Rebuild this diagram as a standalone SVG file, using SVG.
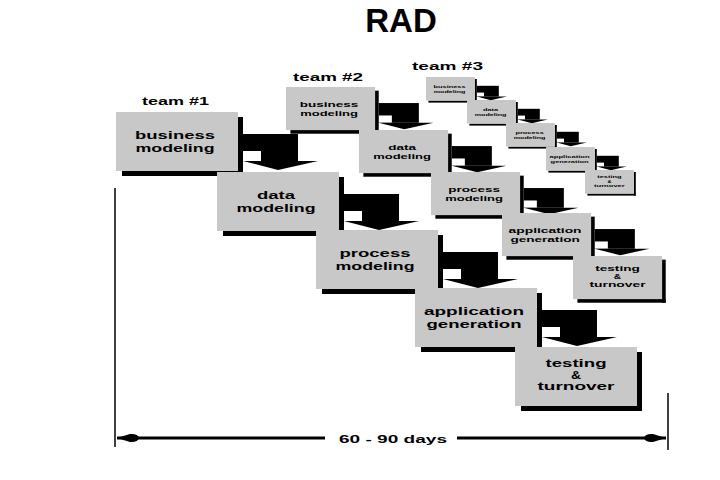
<svg xmlns="http://www.w3.org/2000/svg" xmlns:xlink="http://www.w3.org/1999/xlink" width="720" height="480" viewBox="0 0 720 480">
<style>
.box{fill:#c8c8c8}
.sh{fill:#000}
.t{font-family:"Liberation Sans",Arial,sans-serif;font-weight:bold;font-size:11px;text-anchor:middle;fill:#000}
.t3{font-family:"Liberation Sans",Arial,sans-serif;font-weight:bold;font-size:10px;text-anchor:middle;fill:#000}
.title{font-family:"Liberation Sans",Arial,sans-serif;font-weight:bold;font-size:33px;text-anchor:middle;fill:#000}
.lbl{font-family:"Liberation Sans",Arial,sans-serif;font-weight:bold;font-size:11.5px;text-anchor:middle;fill:#000}
.dim{stroke:#000;stroke-width:3;fill:none}
.ext{stroke:#000;stroke-width:1.5;fill:none}
</style>
<defs>
<g id="card">
<rect class="sh" x="122" y="5" width="5" height="59"/>
<rect class="sh" x="6" y="59" width="121" height="5"/>
<rect class="box" x="0" y="0" width="122" height="59"/>
</g>
<g id="arr">
<rect class="sh" x="127" y="22" width="55" height="27"/>
<rect fill="#fff" x="127" y="39" width="18" height="10"/>
<polygon class="sh" points="127,49 202,49 162,58"/>
</g>
<g id="txt-bm"><text class="t" x="59" y="27" textLength="80" lengthAdjust="spacingAndGlyphs">business</text><text class="t" x="59" y="39.5" textLength="79" lengthAdjust="spacingAndGlyphs">modeling</text></g>
<g id="txt-dm"><text class="t" x="59" y="27" textLength="38" lengthAdjust="spacingAndGlyphs">data</text><text class="t" x="59" y="39.5" textLength="79" lengthAdjust="spacingAndGlyphs">modeling</text></g>
<g id="txt-pm"><text class="t" x="59" y="27" textLength="71" lengthAdjust="spacingAndGlyphs">process</text><text class="t" x="59" y="39.5" textLength="79" lengthAdjust="spacingAndGlyphs">modeling</text></g>
<g id="txt-ag"><text class="t" x="59" y="27" textLength="100" lengthAdjust="spacingAndGlyphs">application</text><text class="t" x="59" y="39.5" textLength="95" lengthAdjust="spacingAndGlyphs">generation</text></g>
<g id="txt-tt"><text class="t3" x="61" y="20" textLength="61" lengthAdjust="spacingAndGlyphs">testing</text><text class="t3" x="61" y="31.5" textLength="10" lengthAdjust="spacingAndGlyphs">&amp;</text><text class="t3" x="61" y="43" textLength="77" lengthAdjust="spacingAndGlyphs">turnover</text></g>
<marker id="head" markerUnits="userSpaceOnUse" markerWidth="26" markerHeight="10" viewBox="0 0 26 10" refX="25" refY="5" orient="auto-start-reverse">
<path d="M25,5 L12,1 Q4,0.5 3,5 Q4,9.5 12,9 Z" fill="#000"/>
</marker>
</defs>
<rect width="720" height="480" fill="#fff"/>
<text class="title" x="401" y="32">RAD</text>
<g id="labels">
<text class="lbl" x="175.5" y="105" textLength="67" lengthAdjust="spacingAndGlyphs">team #1</text>
<text class="lbl" x="328" y="81" textLength="70" lengthAdjust="spacingAndGlyphs">team #2</text>
<text class="lbl" x="447.5" y="70" textLength="71" lengthAdjust="spacingAndGlyphs">team #3</text>
</g>
<g id="connectors">
<use xlink:href="#arr" transform="translate(116,112)"/>
<use xlink:href="#arr" transform="translate(217,172)"/>
<use xlink:href="#arr" transform="translate(316,230)"/>
<use xlink:href="#arr" transform="translate(415,288)"/>
<use xlink:href="#arr" transform="translate(286,87) scale(0.73)"/>
<use xlink:href="#arr" transform="translate(359,130) scale(0.73)"/>
<use xlink:href="#arr" transform="translate(431,172) scale(0.73)"/>
<use xlink:href="#arr" transform="translate(502,213) scale(0.73)"/>
<use xlink:href="#arr" transform="translate(426,77) scale(0.4)"/>
<use xlink:href="#arr" transform="translate(467,100) scale(0.4)"/>
<use xlink:href="#arr" transform="translate(506,123) scale(0.4)"/>
<use xlink:href="#arr" transform="translate(546,147) scale(0.4)"/>
</g>
<g id="t1-business" transform="translate(116,112)"><use xlink:href="#card"/><use xlink:href="#txt-bm"/></g>
<g id="t1-data" transform="translate(217,172)"><use xlink:href="#card"/><use xlink:href="#txt-dm"/></g>
<g id="t1-process" transform="translate(316,230)"><use xlink:href="#card"/><use xlink:href="#txt-pm"/></g>
<g id="t1-application" transform="translate(415,288)"><use xlink:href="#card"/><use xlink:href="#txt-ag"/></g>
<g id="t1-testing" transform="translate(515,347)"><use xlink:href="#card"/><use xlink:href="#txt-tt"/></g>
<g id="t2-business" transform="translate(286,87) scale(0.73)"><use xlink:href="#card"/><use xlink:href="#txt-bm"/></g>
<g id="t2-data" transform="translate(359,130) scale(0.73)"><use xlink:href="#card"/><use xlink:href="#txt-dm"/></g>
<g id="t2-process" transform="translate(431,172) scale(0.73)"><use xlink:href="#card"/><use xlink:href="#txt-pm"/></g>
<g id="t2-application" transform="translate(502,213) scale(0.73)"><use xlink:href="#card"/><use xlink:href="#txt-ag"/></g>
<g id="t2-testing" transform="translate(573,256) scale(0.73)"><use xlink:href="#card"/><use xlink:href="#txt-tt"/></g>
<g id="t3-business" transform="translate(426,77) scale(0.4)"><use xlink:href="#card"/><use xlink:href="#txt-bm"/></g>
<g id="t3-data" transform="translate(467,100) scale(0.4)"><use xlink:href="#card"/><use xlink:href="#txt-dm"/></g>
<g id="t3-process" transform="translate(506,123) scale(0.4)"><use xlink:href="#card"/><use xlink:href="#txt-pm"/></g>
<g id="t3-application" transform="translate(546,147) scale(0.4)"><use xlink:href="#card"/><use xlink:href="#txt-ag"/></g>
<g id="t3-testing" transform="translate(585,170) scale(0.4)"><use xlink:href="#card"/><use xlink:href="#txt-tt"/></g>
<g id="timeline">
<line class="ext" x1="115" y1="188" x2="115" y2="447"/>
<line class="ext" x1="668" y1="393" x2="668" y2="450"/>
<line class="dim" x1="325" y1="438" x2="117" y2="438" marker-end="url(#head)"/>
<line class="dim" x1="457" y1="438" x2="666" y2="438" marker-end="url(#head)"/>
<text class="lbl" x="393" y="443" textLength="108" lengthAdjust="spacingAndGlyphs">60 - 90 days</text>
</g>
</svg>
